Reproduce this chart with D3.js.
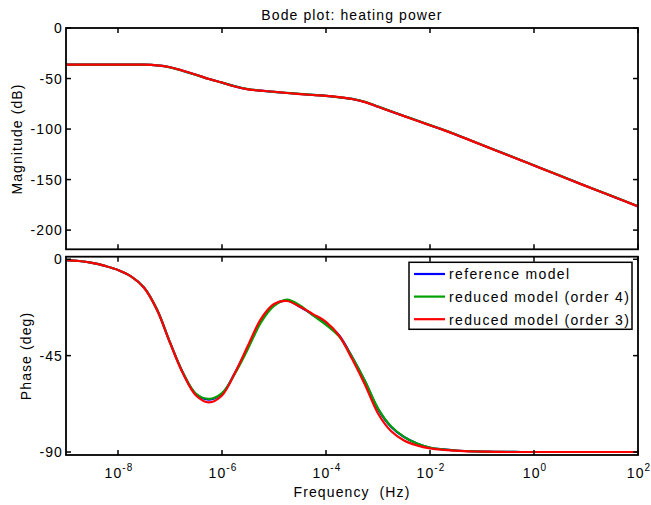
<!DOCTYPE html>
<html>
<head>
<meta charset="utf-8">
<script src="https://cdn.jsdelivr.net/npm/d3@7"></script>
<style>
  body { margin: 0; background: #fff; }
  text { font-family: "Liberation Sans", Arial, sans-serif; letter-spacing: 1.1px; }
</style>
</head>
<body>
<svg width="651" height="505"></svg>
<script>
// frequency grid, as log10(Hz)
var freqExp = [-9, -8.75, -8.5, -8.25, -8, -7.75, -7.5, -7.25, -7, -6.75, -6.5, -6.25,
    -6, -5.75, -5.5, -5.25, -5, -4.75, -4.5, -4.25, -4, -3.75, -3.5, -3.25, -3, -2.75,
    -2.5, -2.25, -2, -1.75, -1.5, -1.25, -1, -0.75, -0.5, -0.25, 0, 0.25, 0.5, 0.75,
    1, 1.25, 1.5, 1.75, 2];

// magnitude (dB)
var magRef = [-36.3, -36.3, -36.3, -36.3, -36.3, -36.3, -36.3, -37, -38.8, -42.4, -46.3, -50.5,
    -54, -57.8, -60.6, -62, -63.2, -64.3, -65.3, -66.2, -67.1, -68.5, -70.2, -73.2, -77.8, -82.5,
    -87, -91.6, -96.2, -100.7, -105.5, -110.6, -115.7, -120.8, -125.8, -130.9, -136, -141.1, -146.2, -151.3,
    -156.4, -161.4, -166.4, -171.4, -176.5];
var magOrd4 = [-36.3, -36.3, -36.3, -36.3, -36.3, -36.3, -36.3, -37, -38.9, -42.5, -46.4, -50.5,
    -54.1, -57.7, -60.5, -62.1, -63.3, -64.2, -65.2, -66.2, -67.2, -68.6, -70.2, -73.1, -77.7, -82.4,
    -87, -91.5, -96.1, -100.6, -105.4, -110.5, -115.6, -120.7, -125.7, -130.8, -135.9, -141, -146.1, -151.2,
    -156.3, -161.3, -166.3, -171.3, -176.3];
var magOrd3 = [-36.3, -36.3, -36.3, -36.3, -36.3, -36.3, -36.3, -37, -38.8, -42.3, -46.2, -50.4,
    -54, -57.9, -60.7, -62, -63.1, -64.3, -65.4, -66.3, -67.1, -68.4, -70.3, -73.4, -78, -82.7,
    -87.2, -91.8, -96.3, -100.8, -105.6, -110.7, -115.8, -120.9, -125.9, -131, -136.1, -141.2, -146.3, -151.4,
    -156.5, -161.5, -166.5, -171.5, -176.6];

// phase (deg)
var phRef = [-0.4, -0.8, -1.7, -3.1, -5, -8, -13.2, -23.5, -38.8, -53, -63, -65.5,
    -62.8, -53, -41, -28.5, -21.3, -19.3, -22.2, -26, -29.8, -35.5, -45.5, -57, -70, -78.2,
    -83, -86, -88, -88.8, -89.3, -89.6, -89.8, -89.9, -89.9, -90, -90, -90, -90, -90,
    -90, -90, -90, -90, -90];
var phOrd4 = [-0.4, -0.8, -1.7, -3.1, -5, -8, -13.2, -23.5, -38.8, -53, -62.8, -65.2,
    -62.5, -53.3, -41.8, -29.5, -21.8, -18.8, -21.6, -26.2, -30.6, -36, -45.5, -56.8, -69.6, -78,
    -82.9, -86, -87.9, -88.8, -89.3, -89.6, -89.8, -89.9, -89.9, -90, -90, -90, -90, -90,
    -90, -90, -90, -90, -90];
var phOrd3 = [-0.4, -0.8, -1.7, -3.1, -5, -8, -13.3, -23.7, -39, -53.4, -63.6, -66.8,
    -63.6, -53, -40.3, -27.8, -20.9, -19.5, -22.2, -25.6, -29.2, -35.6, -46.5, -58.6, -72, -80.2,
    -84.6, -86.9, -88.3, -89, -89.4, -89.7, -89.8, -89.9, -90, -90, -90, -90, -90, -90,
    -90, -90, -90, -90, -90];

var seriesNames = ["reference model", "reduced model (order 4)", "reduced model (order 3)"];
var seriesColors = ["#0000ff", "#00a000", "#ff0000"];
var magTicks = [0, -50, -100, -150, -200];
var phTicks = [0, -45, -90];
var freqTickExp = [-8, -6, -4, -2, 0, 2];

var svg = d3.select("svg");
var left = 66, right = 638;

var x = d3.scaleLog().domain([1e-9, 1e2]).range([left, right]);
var yMag = d3.scaleLinear().domain([-219, 0]).range([249.3, 28]);
var yPh = d3.scaleLinear().domain([-91.4, 1.2]).range([455, 256.7]);

function drawPanel(y, yTicks, series, id, showX) {
    var y0 = y.range()[0], y1 = y.range()[1];
    var g = svg.append("g");

    g.append("clipPath").attr("id", id)
        .append("rect").attr("x", left).attr("y", y1)
        .attr("width", right - left).attr("height", y0 - y1);

    var line = d3.line()
        .x(function(d) { return x(Math.pow(10, d[0])); })
        .y(function(d) { return y(d[1]); })
        .curve(d3.curveCatmullRom.alpha(0.5));

    series.forEach(function(vals, i) {
        g.append("path")
            .datum(freqExp.map(function(e, k) { return [e, vals[k]]; }))
            .attr("clip-path", "url(#" + id + ")")
            .attr("fill", "none")
            .attr("stroke", seriesColors[i])
            .attr("stroke-width", 2.2)
            .attr("d", line);
    });

    // frame
    g.append("rect")
        .attr("x", left).attr("y", y1)
        .attr("width", right - left).attr("height", y0 - y1)
        .attr("fill", "none").attr("stroke", "#000").attr("stroke-width", 1.8);

    // x ticks on top and bottom
    freqTickExp.forEach(function(e) {
        var xx = x(Math.pow(10, e));
        g.append("line").attr("x1", xx).attr("x2", xx).attr("y1", y0).attr("y2", y0 - 5)
            .attr("stroke", "#000").attr("stroke-width", 1.5);
        g.append("line").attr("x1", xx).attr("x2", xx).attr("y1", y1).attr("y2", y1 + 5)
            .attr("stroke", "#000").attr("stroke-width", 1.5);
    });

    // y ticks left and right
    yTicks.forEach(function(t) {
        var yy = y(t);
        g.append("line").attr("x1", left).attr("x2", left + 5).attr("y1", yy).attr("y2", yy)
            .attr("stroke", "#000").attr("stroke-width", 1.5);
        g.append("line").attr("x1", right).attr("x2", right - 5).attr("y1", yy).attr("y2", yy)
            .attr("stroke", "#000").attr("stroke-width", 1.5);
        g.append("text")
            .attr("x", left - 3).attr("y", yy).attr("dy", "0.36em")
            .attr("text-anchor", "end").attr("font-size", 14)
            .text(t);
    });

    if (showX) {
        freqTickExp.forEach(function(e) {
            var t = g.append("text")
                .attr("x", x(Math.pow(10, e)) + 1).attr("y", y0 + 23)
                .attr("text-anchor", "middle").attr("font-size", 14);
            t.append("tspan").text("10");
            t.append("tspan").attr("dy", -7).attr("font-size", 10).text(e);
        });
    }
}

drawPanel(yMag, magTicks, [magRef, magOrd4, magOrd3], "clipMag", false);
drawPanel(yPh, phTicks, [phRef, phOrd4, phOrd3], "clipPh", true);

// title and axis labels
svg.append("text").attr("x", 352).attr("y", 20)
    .attr("text-anchor", "middle").attr("font-size", 14)
    .text("Bode plot: heating power");

svg.append("text").attr("x", 352).attr("y", 497)
    .attr("text-anchor", "middle").attr("font-size", 14)
    .style("white-space", "pre")
    .text("Frequency  (Hz)");

svg.append("text")
    .attr("transform", "translate(21.5,139) rotate(-90)")
    .attr("text-anchor", "middle").attr("font-size", 14)
    .text("Magnitude (dB)");

svg.append("text")
    .attr("transform", "translate(30.5,356) rotate(-90)")
    .attr("text-anchor", "middle").attr("font-size", 14)
    .text("Phase (deg)");

// legend
var lg = svg.append("g");
lg.append("rect").attr("x", 409).attr("y", 262.3).attr("width", 223).attr("height", 67)
    .attr("fill", "#fff").attr("stroke", "#000").attr("stroke-width", 1.5);
seriesNames.forEach(function(name, i) {
    var yy = 274 + i * 22.6;
    lg.append("line").attr("x1", 414).attr("x2", 445).attr("y1", yy).attr("y2", yy)
        .attr("stroke", seriesColors[i]).attr("stroke-width", 2.2);
    lg.append("text").attr("x", 449).attr("y", yy + 5.3).attr("font-size", 14)
        .style("letter-spacing", "1.35px").text(name);
});
</script>
</body>
</html>
